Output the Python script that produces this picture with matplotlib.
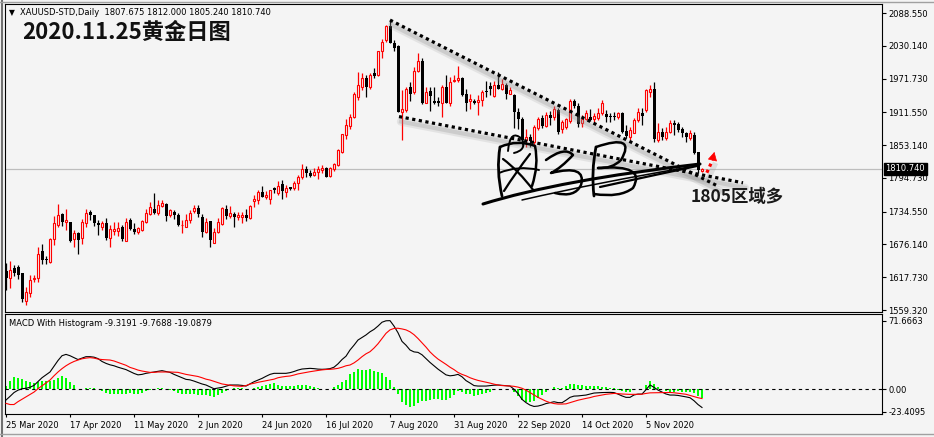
import matplotlib
matplotlib.use("Agg")
import matplotlib.pyplot as plt
import matplotlib.transforms as mtransforms
from matplotlib.lines import Line2D
from matplotlib.path import Path
from matplotlib.patches import PathPatch
import numpy as np

# ---- data (XAUUSD daily, 25 Mar - 25 Nov 2020) ----
opens = [
    1629, 1616, 1635, 1636, 1625, 1576, 1590, 1614, 1616, 1664,
    1650, 1645, 1685, 1710, 1730, 1716, 1716, 1686, 1696, 1687,
    1714, 1734, 1728, 1715, 1708, 1715, 1687, 1700, 1701, 1708,
    1683, 1720, 1704, 1698, 1702, 1717, 1730, 1740, 1732, 1744,
    1749, 1728, 1734, 1729, 1710, 1708, 1719, 1736, 1741, 1725,
    1699, 1718, 1679, 1698, 1712, 1739, 1727, 1730, 1725, 1725,
    1729, 1723, 1754, 1755, 1769, 1760, 1758, 1777, 1768, 1784,
    1770, 1778, 1776, 1785, 1797, 1810, 1804, 1800, 1805, 1809,
    1812, 1799, 1811, 1818, 1841, 1871, 1888, 1903, 1939, 1957,
    1973, 1956, 1981, 1978, 2021, 2040, 2065, 2035, 2030, 1913,
    1916, 1956, 1948, 1985, 2003, 1929, 1950, 1931, 1931, 1929,
    1957, 1929, 1967, 1969, 1973, 1944, 1932, 1932, 1930, 1933,
    1950, 1959, 1941, 1960, 1954, 1961, 1945, 1942, 1913, 1900,
    1863, 1868, 1859, 1883, 1901, 1887, 1907, 1904, 1916, 1881,
    1886, 1897, 1931, 1923, 1893, 1899, 1904, 1899, 1902, 1910,
    1909, 1905, 1905, 1903, 1910, 1879, 1868, 1875, 1898, 1910,
    1916, 1948, 1954, 1862, 1877, 1865, 1877, 1892, 1891, 1881,
    1875, 1865, 1871, 1840, 1807.675]
highs = [
    1643, 1646, 1640, 1640, 1626, 1601, 1622, 1622, 1671, 1677,
    1655, 1687, 1726, 1748, 1733, 1740, 1717, 1702, 1699, 1722,
    1740, 1737, 1729, 1720, 1718, 1723, 1711, 1717, 1717, 1711,
    1723, 1723, 1714, 1708, 1720, 1740, 1752, 1767, 1755, 1755,
    1750, 1740, 1737, 1732, 1720, 1730, 1737, 1746, 1746, 1730,
    1723, 1718, 1705, 1723, 1743, 1746, 1745, 1734, 1734, 1734,
    1739, 1746, 1764, 1773, 1780, 1771, 1774, 1778, 1790, 1791,
    1782, 1779, 1789, 1800, 1819, 1816, 1809, 1812, 1816, 1818,
    1815, 1815, 1821, 1846, 1873, 1899, 1909, 1948, 1984, 1981,
    1978, 1981, 1991, 2021, 2043, 2068, 2076, 2040, 2031, 1951,
    1957, 1966, 1993, 2017, 2008, 1957, 1957, 1957, 1939, 1960,
    1978, 1975, 1978, 1994, 1975, 1953, 1945, 1936, 1942, 1951,
    1967, 1966, 1967, 1983, 1971, 1963, 1957, 1944, 1919, 1903,
    1882, 1873, 1889, 1903, 1907, 1913, 1914, 1922, 1920, 1898,
    1902, 1935, 1935, 1928, 1907, 1916, 1917, 1910, 1919, 1934,
    1916, 1910, 1913, 1913, 1913, 1889, 1886, 1901, 1919, 1919,
    1954, 1960, 1966, 1892, 1883, 1886, 1898, 1898, 1895, 1886,
    1877, 1880, 1877, 1841, 1812.0]
lows = [
    1595, 1598, 1620, 1614, 1574, 1568, 1583, 1610, 1610, 1642,
    1642, 1643, 1675, 1708, 1709, 1702, 1681, 1672, 1659, 1677,
    1708, 1720, 1709, 1693, 1702, 1684, 1672, 1693, 1691, 1683,
    1683, 1702, 1694, 1695, 1701, 1715, 1728, 1730, 1728, 1743,
    1718, 1725, 1722, 1709, 1696, 1707, 1714, 1732, 1725, 1690,
    1697, 1672, 1678, 1696, 1711, 1722, 1724, 1707, 1720, 1714,
    1718, 1722, 1743, 1749, 1761, 1757, 1749, 1767, 1764, 1758,
    1760, 1773, 1773, 1774, 1792, 1796, 1797, 1798, 1792, 1804,
    1796, 1797, 1807, 1816, 1840, 1864, 1882, 1901, 1933, 1951,
    1939, 1954, 1972, 1976, 2009, 2037, 2035, 2021, 1913, 1862,
    1913, 1932, 1945, 1983, 1926, 1928, 1914, 1926, 1922, 1904,
    1928, 1922, 1966, 1966, 1941, 1914, 1917, 1926, 1907, 1923,
    1939, 1942, 1939, 1953, 1951, 1936, 1944, 1884, 1882, 1853,
    1850, 1849, 1853, 1880, 1884, 1886, 1889, 1898, 1873, 1874,
    1882, 1893, 1920, 1886, 1885, 1898, 1897, 1895, 1898, 1907,
    1895, 1895, 1898, 1899, 1874, 1865, 1863, 1874, 1895, 1889,
    1913, 1939, 1859, 1859, 1862, 1863, 1874, 1871, 1877, 1868,
    1859, 1862, 1838, 1803, 1805.24]
closes = [
    1616, 1631, 1626, 1622, 1579, 1592, 1613, 1617, 1660, 1648,
    1648, 1685, 1714, 1728, 1717, 1720, 1683, 1696, 1684, 1717,
    1733, 1728, 1715, 1710, 1714, 1687, 1703, 1704, 1706, 1685,
    1717, 1703, 1699, 1705, 1718, 1732, 1742, 1732, 1746, 1750,
    1727, 1737, 1729, 1711, 1711, 1720, 1732, 1741, 1730, 1699,
    1716, 1684, 1699, 1716, 1741, 1727, 1732, 1725, 1729, 1729,
    1724, 1745, 1757, 1769, 1761, 1765, 1773, 1774, 1781, 1772,
    1777, 1775, 1785, 1796, 1810, 1804, 1798, 1805, 1811, 1812,
    1797, 1812, 1819, 1844, 1873, 1889, 1903, 1944, 1961, 1973,
    1957, 1978, 1977, 2020, 2037, 2065, 2036, 2027, 1913, 1917,
    1954, 1945, 1985, 2003, 1928, 1947, 1941, 1928, 1929, 1956,
    1929, 1966, 1969, 1973, 1942, 1928, 1935, 1929, 1933, 1948,
    1947, 1953, 1960, 1954, 1962, 1945, 1951, 1913, 1900, 1863,
    1868, 1861, 1885, 1899, 1888, 1907, 1901, 1917, 1877, 1895,
    1899, 1931, 1923, 1891, 1899, 1910, 1898, 1905, 1910, 1928,
    1904, 1903, 1903, 1910, 1877, 1869, 1880, 1898, 1913, 1905,
    1951, 1953, 1864, 1877, 1868, 1877, 1892, 1889, 1880, 1874,
    1868, 1875, 1839, 1809, 1810.74]

macd_line = [
    -11.3, -7.5, -3.5, -1.0, 0.5, 1.0, 2.0, 4.0, 8.0, 12.0,
    15.0, 18.0, 24.0, 30.0, 35.0, 36.4, 35.0, 33.0, 31.0, 32.5,
    34.0, 34.0, 33.5, 32.0, 29.0, 27.0, 25.5, 24.5, 23.0, 21.8,
    20.5, 18.5, 16.5, 15.0, 15.5, 16.6, 17.3, 18.0, 18.8, 19.4,
    18.5, 17.6, 15.5, 13.8, 12.0, 10.3, 9.8, 8.5, 7.0, 5.5,
    4.4, 2.5, 0.5, 1.2, 1.9, 3.2, 4.4, 4.4, 4.4, 4.0,
    3.3, 5.5, 7.8, 9.5, 11.3, 13.5, 15.5, 16.6, 16.6, 16.6,
    16.6, 17.3, 18.5, 20.0, 21.1, 21.5, 21.8, 21.5, 21.0, 20.8,
    21.0, 21.5, 23.0, 26.5, 31.0, 34.5, 41.0, 46.0, 51.4, 54.0,
    56.7, 60.0, 62.5, 66.0, 70.0, 71.5, 71.67, 66.0, 59.0, 50.0,
    46.0, 41.0, 39.0, 38.5, 36.0, 32.0, 28.0, 24.5, 21.0, 18.0,
    15.0, 14.0, 14.5, 15.5, 13.0, 9.0, 6.5, 3.8, 3.3, 3.3,
    3.3, 3.8, 4.2, 4.4, 4.0, 3.5, 3.3, 0.0, -4.5, -10.6,
    -14.0, -16.6, -18.0, -17.6, -16.5, -15.0, -14.1, -13.1, -14.0, -14.1,
    -11.5, -8.5, -7.2, -7.0, -6.5, -6.1, -5.0, -4.0, -3.7, -3.5,
    -3.4, -3.3, -3.5, -5.1, -7.0, -8.5, -8.5, -6.0, -5.1, -5.1,
    -0.5, 4.4, 2.0, -0.9, -3.0, -5.0, -6.1, -6.1, -6.5, -7.2,
    -8.0, -8.9, -12.0, -16.0, -19.09]
signal_line = [
    -14.8, -16.0, -16.0, -13.0, -10.5, -8.0, -5.5, -3.0, 0.5, 3.5,
    6.5, 9.6, 14.0, 18.0, 21.5, 24.5, 27.0, 29.0, 30.5, 31.8,
    32.5, 33.0, 32.5, 31.5, 31.0, 30.8, 30.5, 29.5, 28.0, 26.5,
    25.0, 22.8, 21.5, 20.0, 19.0, 18.3, 17.6, 17.6, 18.0, 18.0,
    18.0, 18.0, 17.8, 17.6, 16.5, 15.5, 14.8, 14.0, 13.3, 12.0,
    10.5, 9.6, 8.2, 6.8, 5.5, 4.8, 4.0, 3.5, 3.2, 3.0,
    3.8, 5.4, 6.2, 7.2, 8.0, 8.8, 9.6, 10.5, 12.0, 12.8,
    13.4, 13.8, 14.8, 16.0, 16.8, 17.6, 18.3, 19.0, 19.6, 20.2,
    20.6, 20.8, 21.2, 21.8, 23.0, 24.5, 25.3, 27.5, 30.5, 34.0,
    37.0, 39.2, 43.0, 47.5, 53.0, 58.4, 62.0, 63.5, 63.7, 63.0,
    62.0, 60.0, 57.0, 53.0, 48.5, 44.0, 39.0, 35.0, 31.5, 28.8,
    26.0, 23.0, 20.5, 17.5, 15.5, 14.0, 12.0, 10.5, 9.2, 8.3,
    7.5, 6.4, 5.3, 4.4, 3.8, 3.6, 3.4, 3.0, 2.2, 1.0,
    -1.0, -3.5, -6.0, -8.5, -10.5, -12.5, -14.0, -15.0, -15.5, -15.5,
    -15.3, -14.0, -12.8, -11.5, -10.5, -9.6, -8.8, -7.6, -6.8, -6.0,
    -5.3, -4.8, -4.4, -4.6, -5.0, -5.2, -5.4, -5.4, -5.3, -5.2,
    -4.4, -3.8, -3.7, -3.6, -3.4, -3.3, -3.4, -3.7, -4.2, -4.8,
    -5.3, -6.5, -7.8, -8.9, -9.77]

date_labels = ["25 Mar 2020", "17 Apr 2020", "11 May 2020", "2 Jun 2020",
               "24 Jun 2020", "16 Jul 2020", "7 Aug 2020", "31 Aug 2020",
               "22 Sep 2020", "14 Oct 2020", "5 Nov 2020"]
price_ticks = [2088.55, 2030.14, 1971.73, 1911.55, 1853.14, 1794.73,
               1734.55, 1676.14, 1617.73, 1559.32]
macd_ticks = [71.6663, 0.0, -23.4095]
macd_tick_labels = ["71.6663", "0.00", "-23.4095"]
last_price = 1810.74

# hand drawn objects (bar index, price)
upper_trend = ([96, 178], [2076, 1780])
lower_trend = ([98.25, 184.25], [1904, 1786])
arrow_tail = (175.2, 1804)
arrow_base = (176.6, 1826)
arrow_tip = (177.1, 1841)

# handwritten signature, screen pixels: start point then (control, end) pairs
signature = [
    (2.2, [(483, 204), (560, 180), (700, 164)]),
    (1.1, [(522, 200), (600, 182), (690, 167)]),
    (1.6, [(600, 187), (650, 176), (697, 166)]),
    (2.0, [(500, 147), (496, 170), (502, 196)]),
    (1.8, [(500, 147), (518, 139), (535, 146), (539, 165), (532, 186)]),
    (1.6, [(503, 159), (518, 170), (534, 191)]),
    (1.6, [(504, 191), (516, 172), (530, 154)]),
    (1.4, [(508, 151), (510, 128), (522, 139), (527, 150), (514, 153)]),
    (1.4, [(499, 173), (518, 165), (539, 170)]),
    (1.8, [(546, 160), (565, 146), (573, 155), (561, 168), (551, 173),
           (587, 164), (581, 185), (575, 198), (555, 193)]),
    (2.0, [(596, 147), (591, 172), (594, 196)]),
    (1.8, [(596, 147), (637, 133), (621, 160), (612, 169), (598, 168)]),
    (1.8, [(598, 168), (647, 164), (633, 188), (620, 198), (594, 194)]),
]

BG = "#f4f4f4"
W, H = 934, 437


def px_box(x0, y0, x1, y1):
    return [x0 / W, 1 - y1 / H, (x1 - x0) / W, (y1 - y0) / H]


fig = plt.figure(figsize=(W / 100, H / 100), dpi=100, facecolor=BG)
ax = fig.add_axes(px_box(5, 4, 882, 312), facecolor=BG)
ax2 = fig.add_axes(px_box(5, 314, 882, 414), facecolor=BG)

o, h, l, c = (np.array(v, dtype=float) for v in (opens, highs, lows, closes))
idx = np.arange(len(c))
up = c >= o

# candles
ax.axhline(last_price, color="#bdbdbd", lw=0.9, zorder=1)
ax.vlines(idx[up], l[up], h[up], color="red", lw=0.9, zorder=2)
ax.vlines(idx[~up], l[~up], h[~up], color="black", lw=0.9, zorder=2)
body_lo = np.minimum(o, c)
body_h = np.maximum(np.abs(c - o), 1.2)
ax.bar(idx[up], body_h[up], bottom=body_lo[up], width=0.5,
       facecolor=BG, edgecolor="red", lw=0.8, zorder=3)
ax.bar(idx[~up], body_h[~up], bottom=body_lo[~up], width=0.75,
       color="black", lw=0, zorder=3)

ax.set_xlim(-0.25, 219)
ax.set_ylim(1555.8, 2104.6)
ax.set_xticks([])
ax.yaxis.tick_right()
ax.set_yticks(price_ticks)
ax.set_yticklabels([f"{v:.3f}" for v in price_ticks])
ax.tick_params(axis="y", direction="out", length=3, width=0.8,
               labelsize=6, pad=1.5)

# trend lines with a soft shadow
shadow = mtransforms.offset_copy(ax.transData, fig=fig, x=2, y=-5, units="dots")
for xs, ys in (upper_trend, lower_trend):
    ax.plot(xs, ys, color="#9a9a9a", lw=6, alpha=0.18, transform=shadow,
            solid_capstyle="round", zorder=4)
    ax.plot(xs, ys, color="#8a8a8a", lw=3, alpha=0.25, transform=shadow,
            zorder=4)
    ax.plot(xs, ys, color="black", lw=2.3, ls=(0, (1, 1.1)),
            dash_capstyle="butt", zorder=5)

# red dotted arrow
ax.plot([arrow_tail[0], arrow_base[0]], [arrow_tail[1], arrow_base[1]],
        color="#9a9a9a", lw=4, alpha=0.25, transform=shadow, zorder=4)
ax.plot([arrow_tail[0], arrow_base[0]], [arrow_tail[1], arrow_base[1]],
        color="red", lw=2.3, ls=(0, (1, 1.1)), dash_capstyle="butt", zorder=5)
ax.annotate("", xy=arrow_tip, xytext=arrow_base,
            arrowprops=dict(arrowstyle="-|>,head_length=0.55,head_width=0.3",
                            color="red", lw=0.5, shrinkA=0, shrinkB=0),
            zorder=6)

ax.annotate(f"{last_price:.3f}", xy=(1, last_price),
            xycoords=("axes fraction", "data"), xytext=(2.5, 0),
            textcoords="offset points", va="center", ha="left",
            color="white", fontsize=6,
            bbox=dict(boxstyle="square,pad=0.2", fc="black", ec="black"))

# MACD panel
hist = np.array(macd_line) - np.array(signal_line)
ax2.bar(idx, hist, width=0.7, color="#00ff00", lw=0, zorder=2)
ax2.axhline(0, color="black", lw=0.8, ls=(0, (3, 3)), zorder=3)
ax2.plot(idx, macd_line, color="black", lw=0.8, zorder=4)
ax2.plot(idx, signal_line, color="red", lw=0.8, zorder=4)
ax2.set_xlim(-0.25, 219)
ax2.set_ylim(-25.9, 78.6)
ax2.yaxis.tick_right()
ax2.set_yticks(macd_ticks)
ax2.set_yticklabels(macd_tick_labels)
ax2.tick_params(axis="y", direction="out", length=3, width=0.8,
                labelsize=6, pad=1.5)
ax2.set_xticks(idx[::16][:len(date_labels)])
ax2.set_xticklabels(date_labels)
for lab in ax2.get_xticklabels():
    lab.set_horizontalalignment("left")
ax2.tick_params(axis="x", direction="out", length=2, width=0.8,
                labelsize=6, pad=3)

for a in (ax, ax2):
    for s in a.spines.values():
        s.set_linewidth(0.8)
        s.set_color("black")

# signature strokes (quadratic curves in pixel space)
px_to_fig = mtransforms.Affine2D().scale(1 / W, -1 / H).translate(0, 1) + fig.transFigure
for lw, pts in signature:
    codes = [Path.MOVETO] + [Path.CURVE3] * (len(pts) - 1)
    fig.add_artist(PathPatch(Path(pts, codes), transform=px_to_fig,
                             fill=False, edgecolor="black", lw=lw,
                             capstyle="round", joinstyle="round"))

# texts
fig.text(9 / W, 1 - 12.5 / H, "\u25bc", fontsize=5.5, va="center", ha="left")
fig.text(20 / W, 1 - 12.5 / H,
         "XAUUSD-STD,Daily  1807.675 1812.000 1805.240 1810.740",
         fontsize=6, va="center", ha="left")
fig.text(22 / W, 1 - 32 / H, "2020.11.25黄金日图",
         family=["Noto Sans CJK SC", "DejaVu Sans"], fontweight="bold",
         fontsize=16, va="center", ha="left", color="#111111")
fig.text(9 / W, 1 - 324 / H, "MACD With Histogram -9.3191 -9.7688 -19.0879",
         fontsize=6, va="center", ha="left")
fig.text(691 / W, 1 - 197 / H, "1805区域多",
         family=["Noto Sans CJK SC", "DejaVu Sans"], fontweight="bold",
         fontsize=12.5, va="center", ha="left", color="#1a1a1a")

# window borders
fig.add_artist(Line2D([1.5 / W, 1.5 / W], [0, 1], color="#707070", lw=1.5))
fig.add_artist(Line2D([0, 1], [1 - 1.5 / H, 1 - 1.5 / H], color="#a0a0a0", lw=1))
fig.add_artist(Line2D([0, 1], [3 / H, 3 / H], color="#a0a0a0", lw=1))

fig.savefig("out.png", dpi=100, facecolor=BG)
